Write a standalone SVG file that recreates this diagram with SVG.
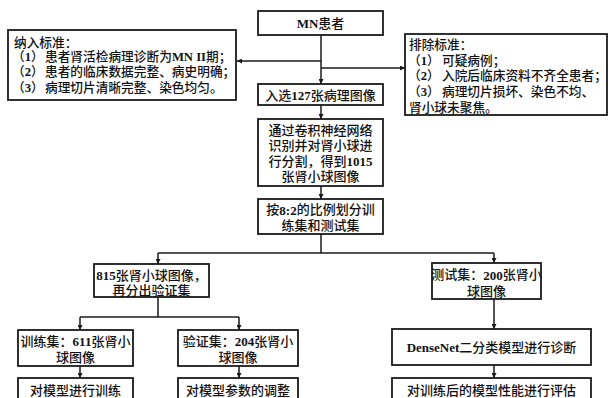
<svg xmlns="http://www.w3.org/2000/svg" width="609" height="398" viewBox="0 0 609 398">
<style>
.box{fill:#fff;stroke:#1a1a1a;stroke-width:1.8}
.t{font-family:"Liberation Serif","Noto Sans CJK SC",serif;font-size:13px;font-weight:500;fill:#111;dominant-baseline:central}
.c{text-anchor:middle}
.s{font-size:12.7px}
.b{font-weight:bold}
.ln{fill:none;stroke:#1a1a1a;stroke-width:1.5}
</style>
<defs>
<marker id="ah" viewBox="0 0 10 10" refX="10" refY="5" markerWidth="5" markerHeight="5" markerUnits="userSpaceOnUse" orient="auto">
<path d="M0,0 L10,5 L0,10 z" fill="#1a1a1a"/>
</marker>
</defs>
<rect width="609" height="398" fill="#fff"/>
<g id="connectors">
<path class="ln" d="M321,35 V84" marker-end="url(#ah)"/>
<path class="ln" d="M321,61 H237" marker-end="url(#ah)"/>
<path class="ln" d="M321,68 H405" marker-end="url(#ah)"/>
<path class="ln" d="M321,105 V119" marker-end="url(#ah)"/>
<path class="ln" d="M321,186 V199" marker-end="url(#ah)"/>
<path class="ln" d="M321,234 V253"/>
<path class="ln" d="M158,253 H494"/>
<path class="ln" d="M158,253 V264" marker-end="url(#ah)"/>
<path class="ln" d="M494,253 V263" marker-end="url(#ah)"/>
<path class="ln" d="M158,297 V317"/>
<path class="ln" d="M80,317 H239"/>
<path class="ln" d="M80,317 V330" marker-end="url(#ah)"/>
<path class="ln" d="M239,317 V330" marker-end="url(#ah)"/>
<path class="ln" d="M80,366 V378" marker-end="url(#ah)"/>
<path class="ln" d="M239,366 V378" marker-end="url(#ah)"/>
<path class="ln" d="M494,299 V329" marker-end="url(#ah)"/>
<path class="ln" d="M494,365 V378" marker-end="url(#ah)"/>
</g>
<g id="mn">
<rect class="box" x="258" y="11" width="125" height="24"/>
<text class="t c" x="320.5" y="23"><tspan class="b">MN</tspan>患者</text>
</g>
<g id="inclusion">
<rect class="box" x="8" y="30" width="228" height="70"/>
<text class="t s" x="14" y="43">纳入标准：</text>
<text class="t s" x="12" y="57">（<tspan class="b">1</tspan>）<tspan x="45">患者肾活检病理诊断为</tspan><tspan class="b">MN II</tspan>期；</text>
<text class="t s" x="12" y="72">（<tspan class="b">2</tspan>）<tspan x="45">患者的临床数据完整、病史明确；</tspan></text>
<text class="t s" x="12" y="88">（<tspan class="b">3</tspan>）<tspan x="45">病理切片清晰完整、染色均匀。</tspan></text>
</g>
<g id="exclusion">
<rect class="box" x="405" y="34" width="202" height="81"/>
<text class="t s" x="409" y="45">排除标准：</text>
<text class="t s" x="408" y="61">（<tspan class="b">1</tspan>）<tspan x="442">可疑病例；</tspan></text>
<text class="t s" x="408" y="76">（<tspan class="b">2</tspan>）<tspan x="442">入院后临床资料不齐全患者；</tspan></text>
<text class="t s" x="408" y="92">（<tspan class="b">3</tspan>）<tspan x="442">病理切片损坏、染色不均、</tspan></text>
<text class="t s" x="409" y="108">肾小球未聚焦。</text>
</g>
<g id="select127">
<rect class="box" x="258" y="84" width="125" height="21"/>
<text class="t c" x="320.5" y="95">入选<tspan class="b">127</tspan>张病理图像</text>
</g>
<g id="cnn">
<rect class="box" x="258" y="119" width="125" height="67"/>
<text class="t c" x="320.5" y="130">通过卷积神经网络</text>
<text class="t c" x="320.5" y="145.5">识别并对肾小球进</text>
<text class="t c" x="320.5" y="161">行分割，得到<tspan class="b">1015</tspan></text>
<text class="t c" x="320.5" y="176.5">张肾小球图像</text>
</g>
<g id="split">
<rect class="box" x="258" y="199" width="125" height="35"/>
<text class="t c" x="320.5" y="209.5">按<tspan class="b">8:2</tspan>的比例划分训</text>
<text class="t c" x="320.5" y="225.5">练集和测试集</text>
</g>
<g id="g815">
<rect class="box" x="94" y="264" width="115" height="33"/>
<text class="t c" x="151.5" y="275"><tspan class="b">815</tspan>张肾小球图像，</text>
<text class="t c" x="151.5" y="290">再分出验证集</text>
</g>
<g id="train">
<rect class="box" x="18" y="330" width="115" height="36"/>
<text class="t c" x="75.5" y="341">训练集：<tspan class="b">611</tspan>张肾小</text>
<text class="t c" x="75.5" y="357">球图像</text>
</g>
<g id="val">
<rect class="box" x="178" y="330" width="120" height="36"/>
<text class="t c" x="238" y="341">验证集：<tspan class="b">204</tspan>张肾小</text>
<text class="t c" x="238" y="357">球图像</text>
</g>
<g id="trainAct">
<rect class="box" x="18" y="378" width="115" height="30"/>
<text class="t c" x="75.5" y="390">对模型进行训练</text>
</g>
<g id="valAct">
<rect class="box" x="178" y="378" width="120" height="30"/>
<text class="t c" x="238" y="390">对模型参数的调整</text>
</g>
<g id="test">
<rect class="box" x="432" y="263" width="109" height="36"/>
<text class="t c" x="486.5" y="274.5">测试集：<tspan class="b">200</tspan>张肾小</text>
<text class="t c" x="486.5" y="291">球图像</text>
</g>
<g id="densenet">
<rect class="box" x="392" y="329" width="199" height="36"/>
<text class="t c" x="491.5" y="347"><tspan class="b">DenseNet</tspan>二分类模型进行诊断</text>
</g>
<g id="eval">
<rect class="box" x="392" y="378" width="199" height="30"/>
<text class="t c" x="491.5" y="390">对训练后的模型性能进行评估</text>
</g>
</svg>
